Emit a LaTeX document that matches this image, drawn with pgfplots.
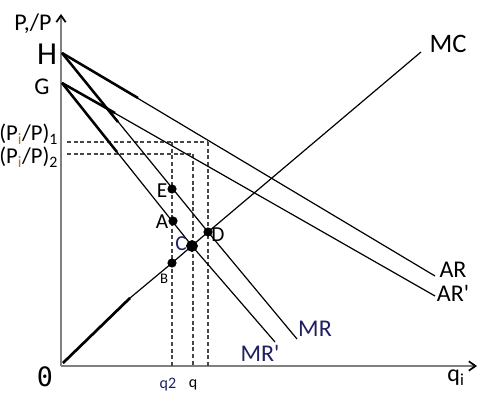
\documentclass[border=0pt]{standalone}
\usepackage{pgfplots}
\pgfplotsset{compat=1.18}
\usetikzlibrary{arrows.meta}
\usepackage{fontspec}
\setmainfont{Carlito}
\newfontfamily\monofont{DejaVu Sans Mono}
\definecolor{navy}{RGB}{31,32,96}
\definecolor{axgray}{RGB}{128,128,128}
\definecolor{subi}{RGB}{176,120,40}
\definecolor{dashgray}{RGB}{70,70,70}
\newcommand{\sq}{\textquotesingle}
\begin{document}
\begin{tikzpicture}
\begin{axis}[
  hide axis, scale only axis,
  x=0.75pt, y=0.75pt,
  xmin=-62, xmax=436, ymin=-40, ymax=366,
  clip=false,
]
% axes
\addplot[axgray, line width=1.5pt, -{Straight Barb[black,length=5pt,width=7pt,line width=1.3pt]}] coordinates {(-1,0) (415,0)};
\addplot[axgray, line width=1.5pt, -{Straight Barb[black,length=5pt,width=7pt,line width=1.3pt]}] coordinates {(-1,0) (-1,352)};
% dashed guides
\addplot[dashgray, line width=0.9pt, dash pattern=on 3pt off 2pt] coordinates {(5,224) (146,224)};
\addplot[dashgray, line width=0.9pt, dash pattern=on 3pt off 2pt] coordinates {(5,212) (131,212)};
\addplot[dashgray, line width=0.9pt, dash pattern=on 3pt off 2pt] coordinates {(110,224) (110,0)};
\addplot[dashgray, line width=0.9pt, dash pattern=on 3pt off 2pt] coordinates {(131,212) (131,0)};
\addplot[dashgray, line width=0.9pt, dash pattern=on 3pt off 2pt] coordinates {(146,224) (146,0)};
% AR and AR'
\addplot[black, line width=0.9pt] coordinates {(0,313) (373,90)};
\addplot[black, line width=1.9pt] coordinates {(0,313) (76,268)};
\addplot[black, line width=0.9pt] coordinates {(0,283) (373,70)};
\addplot[black, line width=1.9pt] coordinates {(0,283) (53,253)};
% MR and MR'
\addplot[black, line width=0.9pt] coordinates {(0,313) (146,134) (235,27)};
\addplot[black, line width=1.9pt] coordinates {(0,313) (56,244)};
\addplot[black, line width=0.9pt] coordinates {(0,283) (130,120) (213,24)};
\addplot[black, line width=1.9pt] coordinates {(0,283) (55,214)};
% MC
\addplot[black, line width=0.9pt] coordinates {(1,3) (68,68) (110,103) (146,134) (359,314)};
\addplot[black, line width=2pt] coordinates {(1,3) (68,68)};
% points
\addplot[only marks, mark=*, mark size=3.2pt, black] coordinates {(110,177) (111,145) (110,103) (146,134)};
\addplot[only marks, mark=*, mark size=4.2pt, black] coordinates {(130,120)};
% labels
\node[font=\fontsize{18}{18}\selectfont] at (axis cs:-29,342) {P,/P};
\node[font=\fontsize{24}{24}\selectfont] at (axis cs:-15,312) {H};
\node[font=\fontsize{18}{18}\selectfont] at (axis cs:-20,279) {G};
\node[anchor=west, inner sep=0pt, font=\fontsize{17}{17}\selectfont] at (axis cs:-63,232) {(P\textsubscript{\textcolor{subi}{i}}/P)\textsubscript{1}};
\node[anchor=west, inner sep=0pt, font=\fontsize{17}{17}\selectfont] at (axis cs:-63,209) {(P\textsubscript{\textcolor{subi}{i}}/P)\textsubscript{2}};
\node[font=\fontsize{16}{16}\selectfont] at (axis cs:100,175) {E};
\node[font=\fontsize{16}{16}\selectfont] at (axis cs:100,144) {A};
\node[font=\fontsize{16}{16}\selectfont, text=navy] at (axis cs:119,122) {C};
\node[font=\fontsize{16}{16}\selectfont] at (axis cs:156,131) {D};
\node[font=\fontsize{11}{11}\selectfont] at (axis cs:102,87) {B};
\node[font=\fontsize{18}{18}\selectfont, text=navy] at (axis cs:253,37) {MR};
\node[font=\fontsize{18}{18}\selectfont, text=navy] at (axis cs:198,13) {MR\sq};
\node[font=\fontsize{20}{20}\selectfont] at (axis cs:386,322) {MC};
\node[font=\fontsize{18}{18}\selectfont] at (axis cs:391,96) {AR};
\node[font=\fontsize{18}{18}\selectfont] at (axis cs:391,73) {AR\sq};
\node[font=\fontsize{12}{12}\selectfont, text=navy] at (axis cs:106,-19) {q2};
\node[font=\fontsize{12}{12}\selectfont] at (axis cs:131,-19) {q};
\node[font=\fontsize{18}{18}\selectfont] at (axis cs:394,-12) {q\textsubscript{i}};
\node[font=\monofont\fontsize{20}{20}\selectfont] at (axis cs:-17,-11) {0};
\end{axis}
\pgfresetboundingbox
\path (current axis.south west) rectangle (current axis.north east);
\end{tikzpicture}
\end{document}
